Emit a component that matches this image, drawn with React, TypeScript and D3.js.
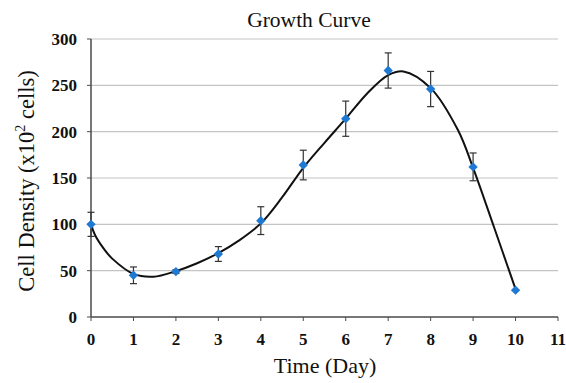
import * as d3 from 'd3';

// measured points with error bars
const days = [0, 1, 2, 3, 4, 5, 6, 7, 8, 9, 10];
const density = [100, 45, 49, 68, 104, 164, 214, 266, 246, 162, 29];
const errors = [13, 9, 2, 8, 15, 16, 19, 19, 19, 15, 0];

// fitted curve
const curveDays = [0, 0.1, 0.33, 0.5, 1, 1.47, 2, 2.5, 3, 3.5, 4, 4.5, 5, 5.5, 6, 6.5, 7, 7.36, 8, 8.64, 9, 9.5, 10];
const curveVals = [100, 88, 72, 63, 46.5, 43.5, 49.5, 58, 69, 83, 101, 129, 161, 188, 214, 241, 261, 265, 247, 202, 161, 96, 30];

const xTicks = [0, 1, 2, 3, 4, 5, 6, 7, 8, 9, 10, 11];
const yTicks = [0, 50, 100, 150, 200, 250, 300];

const W = 566;
const H = 383;
const left = 91;
const right = 558;
const top = 39;
const bottom = 317;

export default function App() {
  const x = d3.scaleLinear().domain([0, 11]).range([left, right]);
  const y = d3.scaleLinear().domain([0, 300]).range([bottom, top]);

  const line = d3
    .line<number>()
    .x((d, i) => x(curveDays[i]))
    .y((d) => y(d))
    .curve(d3.curveCatmullRom.alpha(0.5));

  const serif = '"Liberation Serif", "Times New Roman", serif';
  const axisColor = '#4a4a4a';

  return (
    <svg
      width={W}
      height={H}
      style={{ position: 'absolute', left: 0, top: 0, background: '#fff' }}
      fontFamily={serif}
    >
      <text x={309} y={27} textAnchor="middle" fontSize={21.5} fill="#111">
        Growth Curve
      </text>

      {/* gridlines */}
      {yTicks
        .filter((t) => t > 0)
        .map((t) => (
          <line key={t} x1={left} x2={right} y1={y(t)} y2={y(t)} stroke="#c4c4c4" strokeWidth={1.2} />
        ))}

      {/* y axis */}
      <line x1={left} x2={left} y1={top} y2={bottom} stroke={axisColor} strokeWidth={1.5} />
      {yTicks.map((t) => (
        <g key={t}>
          <line x1={left - 4} x2={left} y1={y(t)} y2={y(t)} stroke={axisColor} strokeWidth={1} />
          <text x={77} y={y(t) + 6} textAnchor="end" fontSize={17} fontWeight="bold" fill="#111">
            {t}
          </text>
        </g>
      ))}

      {/* x axis */}
      <line x1={left} x2={right} y1={bottom} y2={bottom} stroke={axisColor} strokeWidth={1.5} />
      {xTicks.map((t) => (
        <g key={t}>
          <line x1={x(t)} x2={x(t)} y1={bottom} y2={bottom + 4} stroke={axisColor} strokeWidth={1} />
          <text x={x(t)} y={345} textAnchor="middle" fontSize={17} fontWeight="bold" fill="#111">
            {t}
          </text>
        </g>
      ))}

      <text x={325} y={373} textAnchor="middle" fontSize={22} fill="#111">
        Time (Day)
      </text>
      <text
        transform={`translate(34, ${(top + bottom) / 2 + 3}) rotate(-90)`}
        textAnchor="middle"
        fontSize={22.5}
        fill="#111"
      >
        Cell Density (x10
        <tspan fontSize={14} dy={-9}>2</tspan>
        <tspan dy={9}> cells)</tspan>
      </text>

      {/* fitted curve */}
      <path d={line(curveVals) || ''} fill="none" stroke="#111" strokeWidth={2} />

      {/* error bars */}
      {days.map((d, i) =>
        errors[i] > 0 ? (
          <g key={d} stroke="#333" strokeWidth={1.2}>
            <line x1={x(d)} x2={x(d)} y1={y(density[i] + errors[i])} y2={y(density[i] - errors[i])} />
            <line x1={x(d) - 3.5} x2={x(d) + 3.5} y1={y(density[i] + errors[i])} y2={y(density[i] + errors[i])} />
            <line x1={x(d) - 3.5} x2={x(d) + 3.5} y1={y(density[i] - errors[i])} y2={y(density[i] - errors[i])} />
          </g>
        ) : null
      )}

      {/* markers */}
      {days.map((d, i) => (
        <path
          key={d}
          d={d3.symbol(d3.symbolDiamond2, 56)() || ''}
          transform={`translate(${x(d)},${y(density[i])})`}
          fill="#1f78d1"
        />
      ))}
    </svg>
  );
}
